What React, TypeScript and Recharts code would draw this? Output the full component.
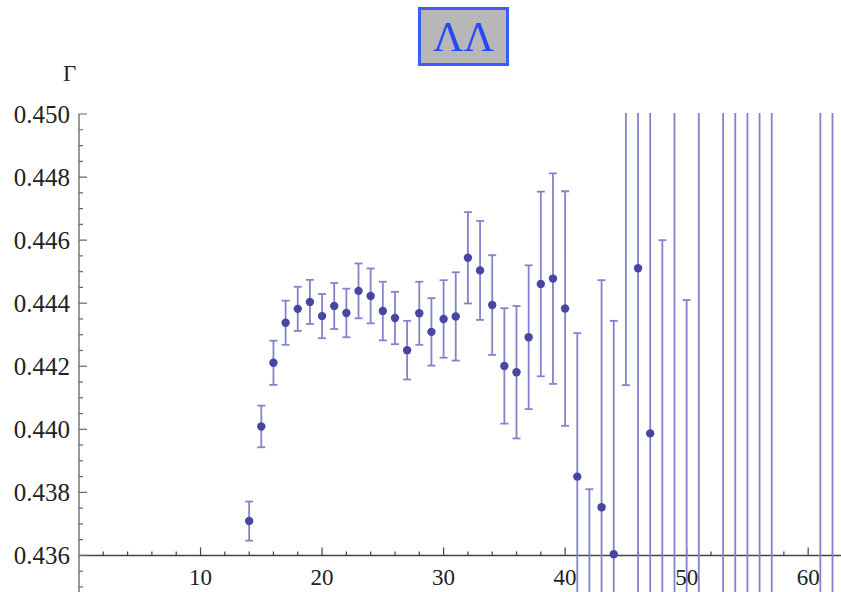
import React from 'react';
import { ScatterChart, Scatter, XAxis, YAxis, ErrorBar, ReferenceLine } from 'recharts';

// time slice t, effective value Γ and its error
const slices = [14, 15, 16, 17, 18, 19, 20, 21, 22, 23, 24, 25, 26, 27, 28, 29, 30, 31, 32, 33, 34, 35, 36, 37, 38, 39, 40, 41, 42, 43, 44, 45, 46, 47, 48, 49, 50, 51, 53, 54, 55, 56, 57, 61, 62];
const gamma = [0.43709, 0.44009, 0.44211, 0.44338, 0.44382, 0.44404, 0.44359, 0.44391, 0.44369, 0.44439, 0.44423, 0.44375, 0.44353, 0.44251, 0.44368, 0.44309, 0.4435, 0.44358, 0.44544, 0.44504, 0.44394, 0.44201, 0.44181, 0.44292, 0.44461, 0.44478, 0.44383, 0.4385, 0.4318, 0.43753, 0.43604, 0.4536, 0.44511, 0.43987, 0.4338, 0.4532, 0.4316, 0.4318, 0.4556, 0.4297, 0.4542, 0.4319, 0.4561, 0.4285, 0.457];
const gammaErr = [0.00062, 0.00066, 0.0007, 0.0007, 0.0007, 0.0007, 0.0007, 0.00073, 0.00077, 0.00087, 0.00087, 0.00093, 0.00083, 0.00093, 0.001, 0.00107, 0.00123, 0.0014, 0.00145, 0.00157, 0.00158, 0.00183, 0.0021, 0.00228, 0.00293, 0.00334, 0.00372, 0.00455, 0.0063, 0.0072, 0.0074, 0.0122, 0.0125, 0.0118, 0.0122, 0.0215, 0.0125, 0.023, 0.024, 0.0245, 0.026, 0.027, 0.028, 0.033, 0.034];

const xMajorTicks = [10, 20, 30, 40, 50, 60];
const xMinorTicks = [2, 4, 6, 8, 12, 14, 16, 18, 22, 24, 26, 28, 32, 34, 36, 38, 42, 44, 46, 48, 52, 54, 56, 58, 62];
const yMajorTicks = [0.436, 0.438, 0.44, 0.442, 0.444, 0.446, 0.448, 0.45];
const yMinorTicks = [0.435, 0.4355, 0.4365, 0.437, 0.4375, 0.4385, 0.439, 0.4395, 0.4405, 0.441, 0.4415, 0.4425, 0.443, 0.4435, 0.4445, 0.445, 0.4455, 0.4465, 0.447, 0.4475, 0.4485, 0.449, 0.4495];

const data = slices.map((t, i) => ({ t, g: gamma[i], err: gammaErr[i] }));
const yTicks = [...yMajorTicks, ...yMinorTicks].sort((a, b) => a - b);

const AXIS_Y = 0.436;
const FONT = '"Liberation Serif", "DejaVu Serif", "Times New Roman", serif';
const pxToY = 1 / 31536;

const YTick = (props: any) => {
  const { x, y, payload } = props;
  const major = yMajorTicks.some((v) => Math.abs(v - payload.value) < 1e-7);
  return (
    <g>
      <line x1={x} y1={y} x2={x + (major ? 8 : 4)} y2={y} stroke="#666" strokeWidth={1.2} />
      {major && (
        <text x={x - 9} y={y} textAnchor="end" dominantBaseline="central" fill="#222" fontSize={25} fontFamily={FONT}>
          {payload.value.toFixed(3)}
        </text>
      )}
    </g>
  );
};

const Dot = (props: any) => <circle cx={props.cx} cy={props.cy} r={4.2} fill="#4747a3" />;

const App = () => {
  return (
    <div style={{ position: 'absolute', left: 0, top: 0, width: 841, height: 592, background: 'white' }}>
      {/* error bars run past the plot top, so cut the chart above the frame */}
      <div style={{ clipPath: 'polygon(0 0, 79px 0, 79px 113px, 100% 113px, 100% 100%, 0 100%)' }}>
        <ScatterChart width={841} height={592} margin={{ top: 114, right: 0, bottom: 0, left: 0 }}>
          <XAxis type="number" dataKey="t" domain={[0, 62.7]} allowDataOverflow hide />
          <YAxis
            type="number"
            dataKey="g"
            domain={[0.43484, 0.45]}
            allowDataOverflow
            ticks={yTicks}
            interval={0}
            tick={<YTick />}
            tickSize={0}
            tickMargin={0}
            tickLine={false}
            width={79}
            axisLine={{ stroke: '#777', strokeWidth: 1.5 }}
          />
          <ReferenceLine y={AXIS_Y} stroke="#444" strokeWidth={1.5} />
          {xMinorTicks.map((t) => (
            <ReferenceLine key={'m' + t} segment={[{ x: t, y: AXIS_Y }, { x: t, y: AXIS_Y + 4 * pxToY }]} stroke="#444" strokeWidth={1.2} />
          ))}
          {xMajorTicks.map((t) => (
            <ReferenceLine
              key={'M' + t}
              segment={[{ x: t, y: AXIS_Y }, { x: t, y: AXIS_Y + 8 * pxToY }]}
              stroke="#444"
              strokeWidth={1.2}
              label={{ value: String(t), position: 'bottom', offset: 13, fill: '#222', fontSize: 23, fontFamily: FONT }}
            />
          ))}
          <Scatter data={data} shape={<Dot />} isAnimationActive={false}>
            <ErrorBar dataKey="err" direction="y" width={4} stroke="#8383c9" strokeWidth={1.8} />
          </Scatter>
        </ScatterChart>
      </div>
      <div
        style={{
          position: 'absolute', left: 418, top: 7, width: 85, height: 53,
          border: '3px solid #3a5cff', background: '#b7b7b7',
          display: 'flex', alignItems: 'center', justifyContent: 'center',
          color: '#2447ff', fontFamily: FONT, fontSize: 42, lineHeight: 1,
        }}
      >
        ΛΛ
      </div>
      <div style={{ position: 'absolute', left: 63, top: 61, fontFamily: FONT, fontSize: 23, color: '#222' }}>Γ</div>
    </div>
  );
};

export default App;
